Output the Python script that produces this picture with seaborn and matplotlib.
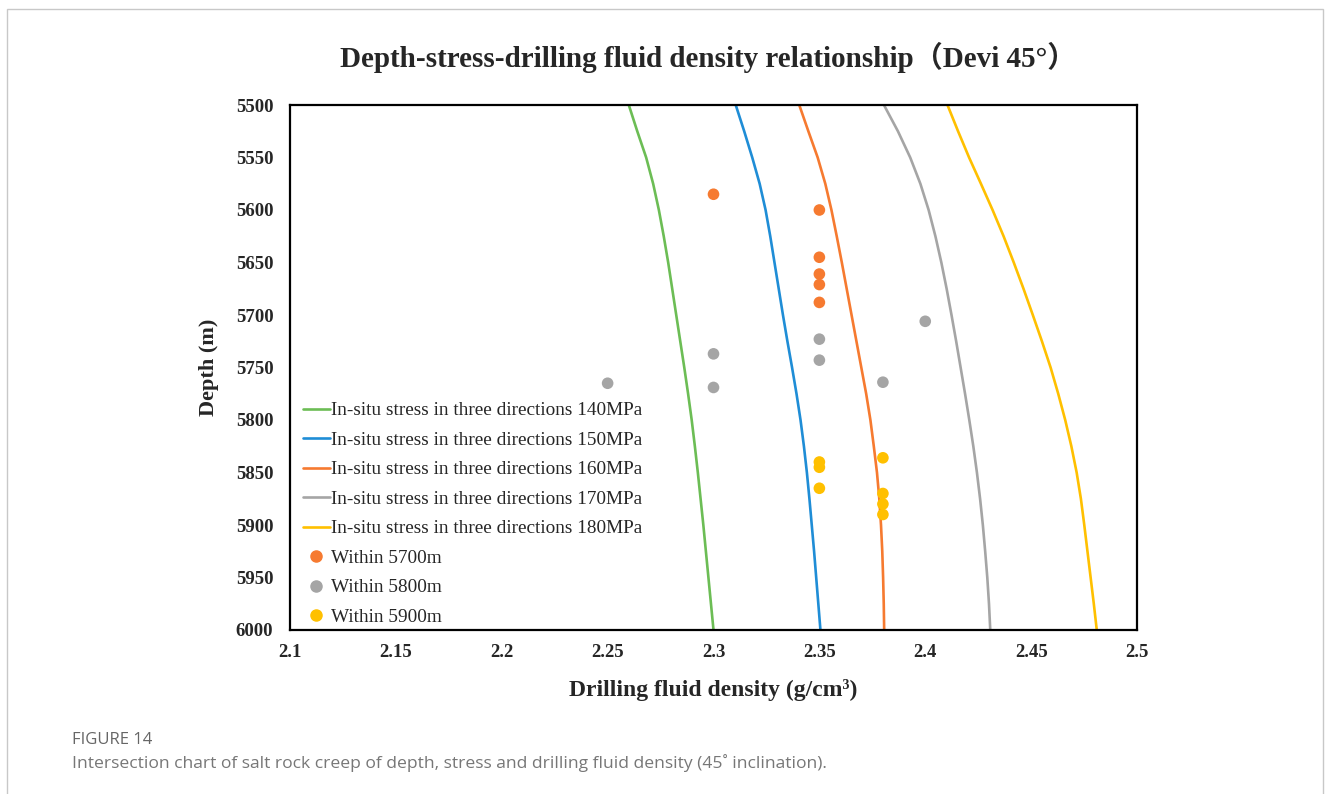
"""Depth-stress-drilling fluid density chart (Devi 45 deg)."""

import pandas as pd
import seaborn as sns
import matplotlib.pyplot as plt
from matplotlib.lines import Line2D
from matplotlib.patches import Rectangle

# depth grid shared by the five stress curves (m)
depth = [5500, 5525, 5550, 5575, 5600, 5625, 5650, 5675, 5700, 5725, 5750,
         5775, 5800, 5825, 5850, 5875, 5900, 5925, 5950, 5975, 6000]

# drilling fluid density along each curve (g/cm3)
stress_140 = [2.2600, 2.2640, 2.2682, 2.2715, 2.2742, 2.2765, 2.2786, 2.2805,
              2.2824, 2.2843, 2.2862, 2.2880, 2.2897, 2.2912, 2.2926, 2.2939,
              2.2952, 2.2964, 2.2976, 2.2988, 2.3000]
stress_150 = [2.3105, 2.3145, 2.3183, 2.3218, 2.3246, 2.3268, 2.3288, 2.3308,
              2.3328, 2.3349, 2.3371, 2.3392, 2.3411, 2.3427, 2.3441, 2.3453,
              2.3464, 2.3475, 2.3485, 2.3495, 2.3505]
stress_160 = [2.3405, 2.3448, 2.3492, 2.3528, 2.3557, 2.3582, 2.3606, 2.3629,
              2.3652, 2.3675, 2.3698, 2.3721, 2.3741, 2.3757, 2.3772, 2.3783,
              2.3791, 2.3797, 2.3801, 2.3804, 2.3806]
stress_170 = [2.3805, 2.3871, 2.3929, 2.3977, 2.4016, 2.4048, 2.4076, 2.4101,
              2.4124, 2.4146, 2.4167, 2.4188, 2.4208, 2.4227, 2.4244, 2.4259,
              2.4272, 2.4283, 2.4293, 2.4301, 2.4307]
stress_180 = [2.4105, 2.4155, 2.4207, 2.4263, 2.4318, 2.4370, 2.4418, 2.4464,
              2.4508, 2.4551, 2.4592, 2.4628, 2.4661, 2.4690, 2.4715, 2.4735,
              2.4751, 2.4766, 2.4781, 2.4796, 2.4810]

curve_labels = [f"In-situ stress in three directions {s}MPa"
                for s in (140, 150, 160, 170, 180)]
curve_values = [stress_140, stress_150, stress_160, stress_170, stress_180]
curve_colors = ['#6cbd55', '#1f8dd6', '#f67a30', '#a5a5a5', '#ffc000']

# measured points
within_5700_x = [2.30, 2.35, 2.35, 2.35, 2.35, 2.35]
within_5700_y = [5585, 5600, 5645, 5661, 5671, 5688]
within_5800_x = [2.40, 2.35, 2.35, 2.30, 2.30, 2.38, 2.25]
within_5800_y = [5706, 5723, 5743, 5737, 5769, 5764, 5765]
within_5900_x = [2.35, 2.35, 2.35, 2.38, 2.38, 2.38, 2.38]
within_5900_y = [5840, 5845, 5865, 5836, 5870, 5880, 5890]

point_labels = ['Within 5700m', 'Within 5800m', 'Within 5900m']
point_colors = ['#f67a30', '#a5a5a5', '#ffc000']

x_ticks = [2.1, 2.15, 2.2, 2.25, 2.3, 2.35, 2.4, 2.45, 2.5]
y_ticks = list(range(5500, 6001, 50))

sns.set_style('white')
serif = ['Liberation Serif', 'Noto Sans CJK SC', 'DejaVu Sans']
plt.rcParams['font.family'] = serif

lines_df = pd.concat(
    [pd.DataFrame({'depth': depth, 'density': vals, 'series': lab})
     for lab, vals in zip(curve_labels, curve_values)],
    ignore_index=True,
)
points_df = pd.concat([
    pd.DataFrame({'density': within_5700_x, 'depth': within_5700_y,
                  'group': point_labels[0]}),
    pd.DataFrame({'density': within_5800_x, 'depth': within_5800_y,
                  'group': point_labels[1]}),
    pd.DataFrame({'density': within_5900_x, 'depth': within_5900_y,
                  'group': point_labels[2]}),
], ignore_index=True)

fig = plt.figure(figsize=(13.31, 7.94), dpi=100)
ax = fig.add_axes([290 / 1331, 1 - 630 / 794, 847 / 1331, 525 / 794])

sns.lineplot(data=lines_df, x='density', y='depth', hue='series',
             palette=dict(zip(curve_labels, curve_colors)), sort=False,
             estimator=None, linewidth=1.9, legend=False, ax=ax)
sns.scatterplot(data=points_df, x='density', y='depth', hue='group',
                palette=dict(zip(point_labels, point_colors)), s=70,
                edgecolor='none', legend=False, ax=ax, zorder=3)

ax.set_xlim(2.1, 2.5)
ax.set_ylim(6000, 5500)
ax.set_xticks(x_ticks)
ax.set_xticklabels([f"{v:g}" for v in x_ticks])
ax.set_yticks(y_ticks)
ax.tick_params(length=0, labelsize=13.5)
ax.tick_params(axis='y', pad=12)
ax.tick_params(axis='x', pad=10)
for lab in ax.get_xticklabels() + ax.get_yticklabels():
    lab.set_fontweight('bold')
for sp in ax.spines.values():
    sp.set_visible(True)
    sp.set_color('black')
    sp.set_linewidth(1.6)

ax.set_xlabel('Drilling fluid density (g/cm³)', fontsize=17,
              fontweight='bold', labelpad=13)
ax.set_ylabel('Depth (m)', fontsize=16, fontweight='bold', labelpad=12)

handles = [Line2D([], [], color=c, linewidth=1.9) for c in curve_colors]
handles += [Line2D([], [], color=c, marker='o', linestyle='none',
                   markersize=8) for c in point_colors]
ax.legend(handles, curve_labels + point_labels, loc='lower left',
          bbox_to_anchor=(0.015, 0.008), frameon=False, fontsize=13.9,
          handlelength=1.4, handletextpad=0.08, labelspacing=0.62,
          borderpad=0, borderaxespad=0)

fig.text(0.532, 1 - 57 / 794,
         'Depth-stress-drilling fluid density relationship（Devi 45°）',
         ha='center', va='center', fontsize=21, fontweight='bold')

# page frame and caption
fig.patches.append(Rectangle((7 / 1331, -0.05), 1316 / 1331, 1.05 - 9 / 794,
                             transform=fig.transFigure, fill=False,
                             edgecolor='#c8c8c8', linewidth=1.0))
fig.text(72 / 1331, 1 - 740 / 794, 'FIGURE 14', family='Open Sans',
         fontsize=12, color='#666666', va='center')
fig.text(72 / 1331, 1 - 763 / 794,
         'Intersection chart of salt rock creep of depth, stress and drilling '
         'fluid density (45˚ inclination).',
         family=['Open Sans', 'DejaVu Sans'], fontsize=12.6,
         color='#777777', va='center')

fig.savefig('out.png', dpi=100)
